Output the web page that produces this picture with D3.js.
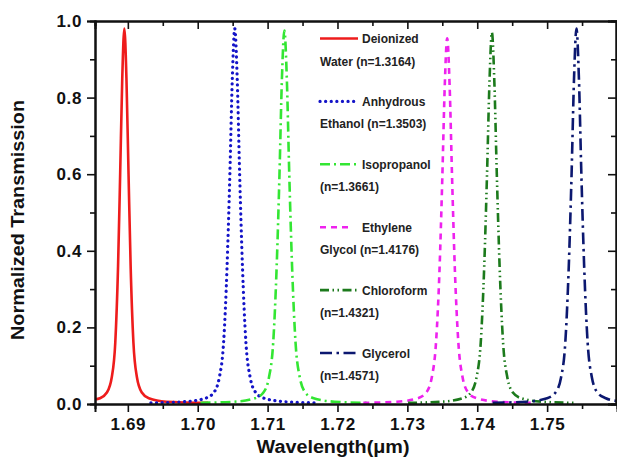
<!DOCTYPE html>
<html>
<head>
<meta charset="utf-8">
<script src="https://cdn.jsdelivr.net/npm/d3@7"></script>
<style>
  body { margin: 0; background: #fff; }
  text { font-family: Arial, "Liberation Sans", sans-serif; font-weight: bold; }
</style>
</head>
<body>
<div id="chart"></div>
<script>
// transmission spectra, 6 liquids
var width = 617, height = 475

// series data (wavelength in um, normalized transmission)
var water = [[1.6853,0.012],[1.6860,0.015],[1.6870,0.030],[1.6877,0.070],[1.6882,0.160],[1.6886,0.360],[1.6889,0.600],[1.6892,0.850],[1.6895,0.980],[1.6898,0.850],[1.6901,0.600],[1.6904,0.360],[1.6908,0.160],[1.6913,0.070],[1.6920,0.030],[1.6930,0.015],[1.6955,0.006],[1.7015,0.003]]
var ethanol = [[1.6933,0.003],[1.6981,0.006],[1.7011,0.015],[1.7023,0.030],[1.7031,0.070],[1.7037,0.160],[1.7042,0.360],[1.7046,0.600],[1.70495,0.850],[1.7053,0.980],[1.70565,0.850],[1.7060,0.600],[1.7064,0.360],[1.7069,0.160],[1.7075,0.070],[1.7083,0.030],[1.7095,0.015],[1.7125,0.006],[1.7173,0.003]]
var isopropanol = [[1.7004,0.003],[1.7052,0.006],[1.7082,0.015],[1.7094,0.030],[1.7102,0.070],[1.7108,0.160],[1.7113,0.360],[1.7117,0.600],[1.71205,0.850],[1.7124,0.975],[1.71275,0.850],[1.7131,0.600],[1.7135,0.360],[1.7140,0.160],[1.7146,0.070],[1.7154,0.030],[1.7166,0.015],[1.7196,0.006],[1.7244,0.003]]
var ethylene = [[1.7237,0.003],[1.7285,0.006],[1.7315,0.015],[1.7327,0.030],[1.7335,0.070],[1.7341,0.160],[1.7346,0.350],[1.7350,0.590],[1.73535,0.830],[1.7357,0.955],[1.73605,0.830],[1.7364,0.590],[1.7368,0.350],[1.7373,0.160],[1.7379,0.070],[1.7387,0.030],[1.7399,0.015],[1.7429,0.006],[1.7477,0.003]]
var chloroform = [[1.7301,0.003],[1.7349,0.006],[1.7379,0.015],[1.7391,0.030],[1.7399,0.070],[1.7405,0.160],[1.7410,0.360],[1.7414,0.600],[1.74175,0.840],[1.7421,0.970],[1.74245,0.840],[1.7428,0.600],[1.7432,0.360],[1.7437,0.160],[1.7443,0.070],[1.7451,0.030],[1.7463,0.015],[1.7493,0.006],[1.7541,0.003]]
var glycerol = [[1.7422,0.003],[1.7470,0.006],[1.7500,0.015],[1.7512,0.030],[1.7520,0.070],[1.7526,0.160],[1.7531,0.360],[1.7535,0.600],[1.75385,0.850],[1.7542,0.980],[1.75455,0.850],[1.7549,0.600],[1.7553,0.360],[1.7558,0.160],[1.7564,0.070],[1.7572,0.030],[1.7584,0.015],[1.7600,0.008]]

var seriesData = [water, ethanol, isopropanol, ethylene, chloroform, glycerol]
var nameLine1 = ['Deionized', 'Anhydrous', 'Isopropanol', 'Ethylene', 'Chloroform', 'Glycerol']
var nameLine2 = ['Water (n=1.3164)', 'Ethanol (n=1.3503)', '(n=1.3661)', 'Glycol (n=1.4176)', '(n=1.4321)', '(n=1.4571)']

var xMajor = [1.69, 1.70, 1.71, 1.72, 1.73, 1.74, 1.75]
var xMinor = [1.695, 1.705, 1.715, 1.725, 1.735, 1.745, 1.755]
var yMajor = [0.0, 0.2, 0.4, 0.6, 0.8, 1.0]
var yMinor = [0.1, 0.3, 0.5, 0.7, 0.9]

// styles
var colors = ['#ee1c1c', '#1414c8', '#33e633', '#ee22ee', '#1c7a1c', '#0c1870']
var dashes = [null, '0.1,5.5', '10,4,2,4', '6,5', '9,3.5,1.5,3.5,1.5,3.5', '12,4.5,2.5,4.5']
var caps = ['butt', 'round', 'butt', 'butt', 'butt', 'butt']

// plot box (window.top は予約済みなので別名)
var plotL = 95, plotR = 617, plotT = 21, plotB = 404

var x = d3.scaleLinear().domain([1.6853, 1.7600]).range([plotL, plotR])
var y = d3.scaleLinear().domain([0, 1]).range([plotB, plotT])

var svg = d3.select('#chart').append('svg')
  .attr('width', width)
  .attr('height', height)

svg.append('defs').append('clipPath').attr('id', 'clip')
  .append('rect')
  .attr('x', plotL).attr('y', 0)
  .attr('width', plotR - plotL).attr('height', plotB + 1)

var line = d3.line()
  .x(function(d) { return x(d[0]) })
  .y(function(d) { return y(d[1]) })
  .curve(d3.curveMonotoneX)

// curves
svg.append('g').attr('clip-path', 'url(#clip)')
  .selectAll('path')
  .data(seriesData)
  .enter()
  .append('path')
  .attr('d', line)
  .attr('fill', 'none')
  .attr('stroke', function(d, i) { return colors[i] })
  .attr('stroke-width', function(d, i) { return i === 1 ? 3.2 : 2.6 })
  .attr('stroke-dasharray', function(d, i) { return dashes[i] })
  .attr('stroke-linecap', function(d, i) { return caps[i] })

// axes
var bottomAxis = d3.axisBottom(x).tickValues(xMajor).tickSize(8).tickPadding(6).tickFormat(d3.format('.2f'))
var bottomMinor = d3.axisBottom(x).tickValues(xMinor).tickSize(5).tickFormat('')
var topAxis = d3.axisTop(x).tickValues(xMajor).tickSize(-8).tickFormat('')
var topMinor = d3.axisTop(x).tickValues(xMinor).tickSize(-5).tickFormat('')
var leftAxis = d3.axisLeft(y).tickValues(yMajor).tickSize(8).tickPadding(5).tickFormat(d3.format('.1f'))
var leftMinor = d3.axisLeft(y).tickValues(yMinor).tickSize(5).tickFormat('')
var rightAxis = d3.axisRight(y).tickValues(yMajor).tickSize(-8).tickFormat('')
var rightMinor = d3.axisRight(y).tickValues(yMinor).tickSize(-5).tickFormat('')

function styleAxis(g) {
  g.select('.domain').attr('stroke', '#111').attr('stroke-width', 2)
  g.selectAll('.tick line').attr('stroke', '#111').attr('stroke-width', 1.6)
  g.selectAll('.tick text')
    .attr('fill', '#111')
    .style('font-size', '17px')
    .style('font-weight', 'bold')
    .style('font-family', 'Arial, "Liberation Sans", sans-serif')
    .style('letter-spacing', '0.6px')
}

svg.append('g').attr('transform', 'translate(0,' + plotB + ')').call(bottomAxis).call(styleAxis)
svg.append('g').attr('transform', 'translate(0,' + plotB + ')').call(bottomMinor).call(styleAxis)
svg.append('g').attr('transform', 'translate(0,' + plotT + ')').call(topAxis).call(styleAxis)
svg.append('g').attr('transform', 'translate(0,' + plotT + ')').call(topMinor).call(styleAxis)
svg.append('g').attr('transform', 'translate(' + plotL + ',0)').call(leftAxis).call(styleAxis)
svg.append('g').attr('transform', 'translate(' + plotL + ',0)').call(leftMinor).call(styleAxis)
svg.append('g').attr('transform', 'translate(' + (plotR - 1) + ',0)').call(rightAxis).call(styleAxis)
svg.append('g').attr('transform', 'translate(' + (plotR - 1) + ',0)').call(rightMinor).call(styleAxis)

// axis titles
svg.append('text')
  .attr('x', 333).attr('y', 453)
  .attr('text-anchor', 'middle')
  .attr('font-size', 18)
  .attr('textLength', 153)
  .attr('lengthAdjust', 'spacingAndGlyphs')
  .attr('fill', '#111')
  .text('Wavelength(μm)')

svg.append('text')
  .attr('transform', 'translate(24,220) rotate(-90)')
  .attr('text-anchor', 'middle')
  .attr('font-size', 18)
  .attr('textLength', 240)
  .attr('lengthAdjust', 'spacingAndGlyphs')
  .attr('fill', '#111')
  .text('Normalized Transmission')

// legend
var legend = svg.append('g').selectAll('g')
  .data(nameLine1)
  .enter()
  .append('g')
  .attr('transform', function(d, i) { return 'translate(0,' + (38.5 + i * 62.9) + ')' })

legend.append('line')
  .attr('x1', 320)
  .attr('x2', function(d, i) { return i === 3 ? 352 : 358 })
  .attr('y1', 0).attr('y2', 0)
  .attr('stroke', function(d, i) { return colors[i] })
  .attr('stroke-width', function(d, i) { return i === 1 ? 3.2 : 2.6 })
  .attr('stroke-dasharray', function(d, i) { return dashes[i] })
  .attr('stroke-linecap', function(d, i) { return caps[i] })

legend.append('text')
  .attr('x', 362).attr('y', 4.5)
  .attr('font-size', 12)
  .attr('fill', '#222')
  .text(function(d) { return d })

legend.append('text')
  .attr('x', 320).attr('y', 27)
  .attr('font-size', 12)
  .attr('fill', '#222')
  .text(function(d, i) { return nameLine2[i] })
</script>
</body>
</html>
